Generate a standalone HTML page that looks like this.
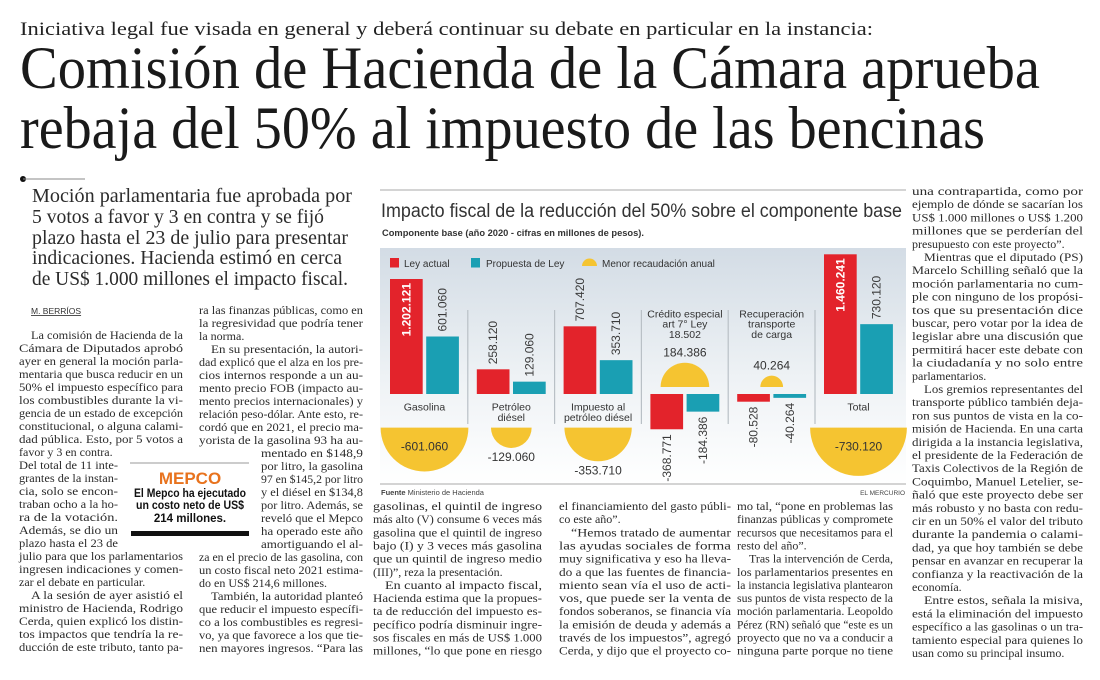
<!DOCTYPE html>
<html><head><meta charset="utf-8">
<style>
html,body{margin:0;padding:0;background:#fff;}
svg{display:block;}
.serif{font-family:"Liberation Serif",serif;}
.sans{font-family:"Liberation Sans",sans-serif;}
</style></head>
<body>
<svg id="page" width="1100" height="680" viewBox="0 0 1100 680" xmlns="http://www.w3.org/2000/svg">
<defs>
<linearGradient id="panelGrad" x1="0" y1="0" x2="0" y2="1">
<stop offset="0" stop-color="#d3dce5"/>
<stop offset="0.55" stop-color="#eef2f5"/>
<stop offset="1" stop-color="#ffffff"/>
</linearGradient>
</defs>
<g id="headerG">
<text x="20" y="35" class="serif" font-size="19" fill="#222" textLength="853" lengthAdjust="spacingAndGlyphs">Iniciativa legal fue visada en general y deberá continuar su debate en particular en la instancia:</text>
<text x="20" y="88" class="serif" font-size="60" fill="#1a1a1a" textLength="1020" lengthAdjust="spacingAndGlyphs">Comisión de Hacienda de la Cámara aprueba</text>
<text x="20" y="148" class="serif" font-size="60" fill="#1a1a1a" textLength="965" lengthAdjust="spacingAndGlyphs">rebaja del 50% al impuesto de las bencinas</text>
</g>
<g id="deckG">
<circle cx="23" cy="179" r="3" fill="#111"/>
<line x1="23" y1="179" x2="85" y2="179" stroke="#888" stroke-width="1"/>
</g>
<g id="bodyG"></g>
<g id="mepcoG">
<line x1="130" y1="463" x2="249" y2="463" stroke="#999" stroke-width="1"/>
<text x="190" y="484" text-anchor="middle" class="sans" font-size="17" font-weight="bold" fill="#e8731e">MEPCO</text>
<text x="190" y="497" text-anchor="middle" class="sans" font-size="11.5" font-weight="bold" fill="#111" textLength="112" lengthAdjust="spacingAndGlyphs">El Mepco ha ejecutado</text>
<text x="190" y="509" text-anchor="middle" class="sans" font-size="11.5" font-weight="bold" fill="#111" textLength="108" lengthAdjust="spacingAndGlyphs">un costo neto de US$</text>
<text x="190" y="522" text-anchor="middle" class="sans" font-size="11.5" font-weight="bold" fill="#111">214 millones.</text>
<rect x="131" y="531" width="118" height="5" fill="#111"/>
</g>
<g id="chartG">
<line x1="380" y1="190" x2="906" y2="190" stroke="#aaa" stroke-width="1"/>
<text x="381" y="217" class="sans" font-size="19" fill="#333" textLength="521" lengthAdjust="spacingAndGlyphs">Impacto fiscal de la reducción del 50% sobre el componente base</text>
<text x="382" y="236" class="sans" font-size="9" font-weight="bold" fill="#333" textLength="262" lengthAdjust="spacingAndGlyphs">Componente base (año 2020 - cifras en millones de pesos).</text>
<rect x="380" y="248" width="526" height="236" fill="url(#panelGrad)"/>
<line x1="380" y1="484" x2="906" y2="484" stroke="#aaa" stroke-width="1"/>
<text x="381" y="495" class="sans" font-size="7.5" fill="#444"><tspan font-weight="bold">Fuente</tspan> Ministerio de Hacienda</text>
<text x="905" y="495" text-anchor="end" class="sans" font-size="6.5" fill="#444">EL MERCURIO</text>
<g>
<rect x="390" y="258" width="9" height="9.5" fill="#e3232b"/>
<text x="404" y="267" class="sans" font-size="10" fill="#333">Ley actual</text>
<rect x="471" y="258" width="9" height="9.5" fill="#1a9fb3"/>
<text x="486" y="267" class="sans" font-size="10" fill="#333">Propuesta de Ley</text>
<path d="M582,266 A7.5,7.5 0 0 1 597,266 Z" fill="#f5c431"/>
<text x="602" y="267" class="sans" font-size="10" fill="#333">Menor recaudación anual</text>
</g>
<g id="marksG"></g>
</g>
</svg>
<script>
// ---- chart data ----
const categories = ["Gasolina","Petróleo diésel","Impuesto al petróleo diésel","Crédito especial art 7° Ley 18.502","Recuperación transporte de carga","Total"];
const leyActual = [1202121, 258120, 707420, -368771, -80528, 1460241];
const propuesta = [601060, 129060, 353710, -184386, -40264, 730120];
const menorRecaudacion = [-601060, -129060, -353710, 184386, 40264, -730120];
const ns = "http://www.w3.org/2000/svg";
const marks = document.getElementById("marksG");
const baseY = 394, pxPerUnit = 115/1202121, groupLeft = 390, groupPitch = 86.8, barW = 32.7, tealOff = 36.2;
const rK = 43.9/Math.sqrt(601060);
function yScale(v){ return baseY - v*pxPerUnit; }
function gx(i){ return groupLeft + i*groupPitch; }
function fmt(v){ const s=Math.abs(Math.round(v)).toString().replace(/\B(?=(\d{3})+(?!\d))/g,"."); return (v<0?"-":"")+s; }
function el(tag, attrs, parent){ const e=document.createElementNS(ns,tag); for(const k in attrs) e.setAttribute(k,attrs[k]); (parent||marks).appendChild(e); return e; }
const catLines = [["Gasolina"],["Petróleo","diésel"],["Impuesto al","petróleo diésel"],null,null,["Total"]];
const topLines = [null,null,null,["Crédito especial","art 7° Ley","18.502"],["Recuperación","transporte","de carga"],null];
for(let i=1;i<categories.length;i++){
  const sx = gx(i) - 9;
  const ln = el("line",{x1:sx,y1:310,x2:sx,y2:424,stroke:"#b9c0c6","stroke-width":1.2});
  
  
}
function barLabel(x, v, barTop, barBot, inside, neg, name){
  const cx = x + barW/2;
  const t = el("text",{class:"sans","font-size":12,fill: inside?"#fff":"#3a3a3a","font-weight": inside?"bold":"normal"});
  t.textContent = fmt(v);
  
  
  let ty, anchor;
  if(inside){ ty = barTop + 4; anchor="end"; }
  else if(!neg){ ty = barTop - 5; anchor="start"; }
  else { ty = barBot + 5; anchor="end"; }
  t.setAttribute("text-anchor", anchor);
  t.setAttribute("transform", `translate(${cx+4},${ty}) rotate(-90)`);
}
categories.forEach((c,i)=>{
  const x0 = gx(i), x1 = gx(i)+tealOff, cx = gx(i)+34.5;
  [[leyActual[i],x0,"#e3232b","bar-ley-actual"],[propuesta[i],x1,"#1a9fb3","bar-propuesta"]].forEach(([v,x,col,nm])=>{
    const yTop = Math.min(yScale(v), baseY), h = Math.abs(v)*pxPerUnit;
    const r = el("rect",{x:x,y:yTop,width:barW,height:h,fill:col});
    
    
    const inside = h > 100;
    barLabel(x, v, yTop, yTop+h, inside, v<0, 'value-label-' + nm + '-' + i);
  });
  const m = menorRecaudacion[i], rad = rK*Math.sqrt(Math.abs(m));
  let p, lbl;
  if(m<0){
    const top = 427.6;
    p = el("path",{d:`M${cx-rad},${top} A${rad},${rad} 0 0 0 ${cx+rad},${top} Z`,fill:"#f5c431"});
    lbl = el("text",{x:cx,y: rad>40 ? top+23 : top+rad+13,"text-anchor":"middle",class:"sans","font-size":12,fill:"#333"});
  } else {
    const bot = 387;
    p = el("path",{d:`M${cx-rad},${bot} A${rad},${rad} 0 0 1 ${cx+rad},${bot} Z`,fill:"#f5c431"});
    lbl = el("text",{x:cx,y:bot-rad-6,"text-anchor":"middle",class:"sans","font-size":12,fill:"#333"});
  }
  
  
  lbl.textContent = fmt(m);
  
  
  if(catLines[i]){
    catLines[i].forEach((s,k)=>{
      const t = el("text",{x:cx,y:410.4+k*10.6,"text-anchor":"middle",class:"sans","font-size":10.5,fill:"#333"});
      t.textContent = s;
      
      
    });
  }
  if(topLines[i]){
    topLines[i].forEach((s,k)=>{
      const t = el("text",{x:cx,y:317.4+k*10.3,"text-anchor":"middle",class:"sans","font-size":10.5,fill:"#333"});
      t.textContent = s;
      
      
    });
  }
});

// ---- article text ----
const body = document.getElementById("bodyG");
function addLine(x, y, w, s, size, just, name){
  const t = document.createElementNS(ns,"text");
  t.setAttribute("x", x); t.setAttribute("y", y);
  t.setAttribute("class","serif"); t.setAttribute("font-size", size); t.setAttribute("fill","#2b2b2b");
  if(just){ t.setAttribute("textLength", w); t.setAttribute("lengthAdjust","spacingAndGlyphs"); }
  t.textContent = s;
  
  
  body.appendChild(t);
}
function column(lines, x, w, y0, step, size, name){
  lines.forEach((ln,i)=>{
    let lx=x, lw=w, s=ln;
    if(typeof ln === "object"){ lx=ln.x; lw=ln.w; s=ln.s; }
    let just = true;
    if(s.startsWith(">")){ s=s.slice(1); lx+=12; lw-=12; }
    if(s.endsWith("|")){ s=s.slice(0,-1); just=false; }
    addLine(lx, y0+i*step, lw, s, size, just, name);
  });
}
const deck = ["Moción parlamentaria fue aprobada por","5 votos a favor y 3 en contra y se fijó","plazo hasta el 23 de julio para presentar","indicaciones. Hacienda estimó en cerca","de US$ 1.000 millones el impacto fiscal."];
const deckW = [320,292,316,310,316];
deck.forEach((s,i)=>addLine(32, [202,223,244,264,285][i], deckW[i], s, 19.5, true, 'deck-line'));

const by = document.createElementNS(ns,"text");
by.setAttribute("x",31); by.setAttribute("y",314); by.setAttribute("class","sans"); by.setAttribute("font-size",8.5); by.setAttribute("fill","#333"); by.setAttribute("text-decoration","underline");
by.textContent = "M. BERRÍOS";


body.appendChild(by);

const col1 = [">La comisión de Hacienda de la","Cámara de Diputados aprobó","ayer en general la moción parla-","mentaria que busca reducir en un","50% el impuesto específico para","los combustibles durante la vi-","gencia de un estado de excepción","constitucional, o alguna calami-","dad pública. Esto, por 5 votos a","favor y 3 en contra.|",
{x:19,w:99,s:"Del total de 11 inte-"},{x:19,w:99,s:"grantes de la instan-"},{x:19,w:99,s:"cia, solo se encon-"},{x:19,w:99,s:"traban ocho a la ho-"},{x:19,w:99,s:"ra de la votación."},{x:19,w:99,s:"Además, se dio un"},{x:19,w:99,s:"plazo hasta el 23 de"},
"julio para que los parlamentarios","ingresen indicaciones y comen-","zar el debate en particular.|",">A la sesión de ayer asistió el","ministro de Hacienda, Rodrigo","Cerda, quien explicó los distin-","tos impactos que tendría la re-","ducción de este tributo, tanto pa-"];
column(col1, 19, 164, 339, 13, 12, 'body-col-1-line');
const col2 = ["ra las finanzas públicas, como en","la regresividad que podría tener","la norma.|",">En su presentación, la autori-","dad explicó que el alza en los pre-","cios internos responde a un au-","mento precio FOB (impacto au-","mento precios internacionales) y","relación peso-dólar. Ante esto, re-","cordó que en 2021, el precio ma-","yorista de la gasolina 93 ha au-",
{x:261,w:102,s:"mentado en $148,9"},{x:261,w:102,s:"por litro, la gasolina"},{x:261,w:102,s:"97 en $145,2 por litro"},{x:261,w:102,s:"y el diésel en $134,8"},{x:261,w:102,s:"por litro. Además, se"},{x:261,w:102,s:"reveló que el Mepco"},{x:261,w:102,s:"ha operado este año"},{x:261,w:102,s:"amortiguando el al-"},
"za en el precio de las gasolina, con","un costo fiscal neto 2021 estima-","do en US$ 214,6 millones.|",">También, la autoridad planteó","que reducir el impuesto específi-","co a los combustibles es regresi-","vo, ya que favorece a los que tie-","nen mayores ingresos. “Para las"];
column(col2, 199, 164, 314, 13, 12, 'body-col-2-line');
const col3 = ["gasolinas, el quintil de ingreso","más alto (V) consume 6 veces más","gasolina que el quintil de ingreso","bajo (I) y 3 veces más gasolina","que un quintil de ingreso medio","(III)”, reza la presentación.|",">En cuanto al impacto fiscal,","Hacienda estima que la propues-","ta de reducción del impuesto es-","pecífico podría disminuir ingre-","sos fiscales en más de US$ 1.000","millones, “lo que pone en riesgo"];
column(col3, 373, 169, 510, 13.15, 12, 'body-col-3-line');
const col4 = ["el financiamiento del gasto públi-","co este año”.|",">“Hemos tratado de aumentar","las ayudas sociales de forma","muy significativa y eso ha lleva-","do a que las fuentes de financia-","miento sean vía el uso de acti-","vos, que puede ser la venta de","fondos soberanos, se financia vía","la emisión de deuda y además a","través de los impuestos”, agregó","Cerda, y dijo que el proyecto co-"];
column(col4, 559, 172, 510, 13.15, 12, 'body-col-4-line');
const col5 = ["mo tal, “pone en problemas las","finanzas públicas y compromete","recursos que necesitamos para el","resto del año”.|",">Tras la intervención de Cerda,","los parlamentarios presentes en","la instancia legislativa plantearon","sus puntos de vista respecto de la","moción parlamentaria. Leopoldo","Pérez (RN) señaló que “este es un","proyecto que no va a conducir a","ninguna parte porque no tiene"];
column(col5, 737, 156, 510, 13.15, 12, 'body-col-5-line');
const col6 = ["una contrapartida, como por","ejemplo de dónde se sacarían los","US$ 1.000 millones o US$ 1.200","millones que se perderían del","presupuesto con este proyecto”.|",">Mientras que el diputado (PS)","Marcelo Schilling señaló que la","moción parlamentaria no cum-","ple con ninguno de los propósi-","tos que su presentación dice","buscar, pero votar por la idea de","legislar abre una discusión que","permitirá hacer este debate con","la ciudadanía y no solo entre","parlamentarios.|",">Los gremios representantes del","transporte público también deja-","ron sus puntos de vista en la co-","misión de Hacienda. En una carta","dirigida a la instancia legislativa,","el presidente de la Federación de","Taxis Colectivos de la Región de","Coquimbo, Manuel Letelier, se-","ñaló que este proyecto debe ser","más robusto y no basta con redu-","cir en un 50% el valor del tributo","durante la pandemia o calami-","dad, ya que hoy también se debe","pensar en avanzar en recuperar la","confianza y la reactivación de la","economía.|",">Entre estos, señala la misiva,","está la eliminación del impuesto","específico a las gasolinas o un tra-","tamiento especial para quienes lo","usan como su principal insumo.|"];
column(col6, 912, 171, 195, 13.2, 12, 'body-col-6-line');
</script>
</body></html>
